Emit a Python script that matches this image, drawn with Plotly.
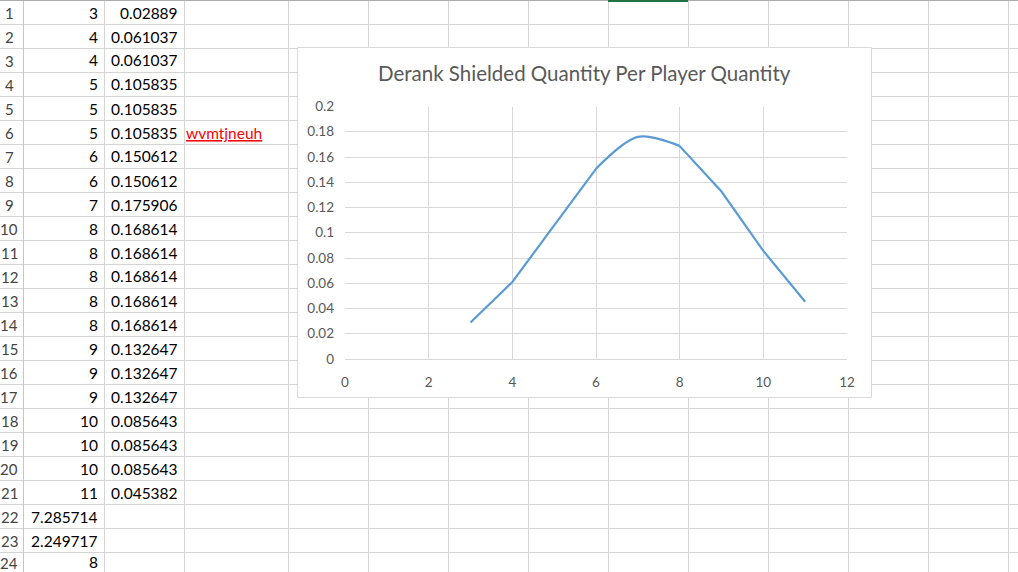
import plotly.graph_objects as go

# ---------------- data ----------------
player_qty = [3, 4, 4, 5, 5, 5, 6, 6, 7, 8, 8, 8, 8, 8, 9, 9, 9, 10, 10, 10, 11]
shielded_qty = [0.02889, 0.061037, 0.061037, 0.105835, 0.105835, 0.105835,
                0.150612, 0.150612, 0.175906, 0.168614, 0.168614, 0.168614,
                0.168614, 0.168614, 0.132647, 0.132647, 0.132647, 0.085643,
                0.085643, 0.085643, 0.045382]
summary_vals = ["7.285714", "2.249717", "8"]
note_text = "wvmtjneuh"
chart_title = "Derank Shielded Quantity Per Player Quantity"
x_ticks = [0, 2, 4, 6, 8, 10, 12]
y_ticks = [0, 0.02, 0.04, 0.06, 0.08, 0.1, 0.12, 0.14, 0.16, 0.18, 0.2]
y_tick_text = ["0", "0.02", "0.04", "0.06", "0.08", "0.1", "0.12", "0.14", "0.16", "0.18", "0.2"]

# ---------------- geometry (pixels) ----------------
W, H = 1018, 572
def px(x):
    return x / W
def py(y):
    return 1 - y / H

ROW_H = 24
col_edges = [23, 104, 184, 288, 368, 448, 528, 608, 688, 768, 848, 928, 1008]
CHART = dict(x0=297, y0=47, x1=871, y1=397)
PLOT = dict(x0=345, x1=847, y0=106.5, y1=359)

FAMILY = "Lato, Calibri, sans-serif"
CELL_FONT = dict(family=FAMILY, size=15.5, color="#000000")
GRID = "#d4d4d4"

def row_center(i):
    # text centre (px) of 0-based spreadsheet row i; the last visible row is
    # partly outside the window, so keep its text just inside the edge
    return min(i * ROW_H + 12.5, H - 10)

shapes = []
annotations = []

# spreadsheet horizontal grid lines
for r in range(1, 25):
    y = r * ROW_H + 0.5
    shapes.append(dict(type="line", xref="paper", yref="paper", layer="below",
                       x0=0, x1=1, y0=py(y), y1=py(y),
                       line=dict(color=GRID, width=1)))
# vertical grid lines
for i, x in enumerate(col_edges):
    shapes.append(dict(type="line", xref="paper", yref="paper", layer="below",
                       x0=px(x + 0.5), x1=px(x + 0.5), y0=0, y1=1,
                       line=dict(color="#c6c6c6" if i == 0 else GRID, width=1)))
# top border + selected column indicator
shapes.append(dict(type="line", xref="paper", yref="paper", layer="below",
                   x0=0, x1=1, y0=py(0.5), y1=py(0.5),
                   line=dict(color="#ababab", width=1)))
shapes.append(dict(type="line", xref="paper", yref="paper", layer="below",
                   x0=px(608), x1=px(688), y0=py(1), y1=py(1),
                   line=dict(color="#217346", width=2)))
# chart area box
shapes.append(dict(type="rect", xref="paper", yref="paper", layer="below",
                   x0=px(CHART["x0"] + 0.5), x1=px(CHART["x1"] + 0.5),
                   y0=py(CHART["y1"] + 0.5), y1=py(CHART["y0"] + 0.5),
                   fillcolor="#ffffff", line=dict(color="#d9d9d9", width=1)))

# row headers
for r in range(1, 25):
    annotations.append(dict(xref="paper", yref="paper", x=px(9), y=py(row_center(r - 1) + 0.5),
                            text=str(r), showarrow=False, xanchor="center", yanchor="middle",
                            font=dict(family=FAMILY, size=15, color="#444444")))

# column A and B values
for i, (a, b) in enumerate(zip(player_qty, shielded_qty)):
    yc = py(row_center(i))
    annotations.append(dict(xref="paper", yref="paper", x=px(100), y=yc, text=str(a),
                            showarrow=False, xanchor="right", yanchor="middle", font=CELL_FONT))
    annotations.append(dict(xref="paper", yref="paper", x=px(180), y=yc, text=f"{b:g}",
                            showarrow=False, xanchor="right", yanchor="middle", font=CELL_FONT))
for j, v in enumerate(summary_vals):
    r = len(player_qty) + j
    annotations.append(dict(xref="paper", yref="paper", x=px(100), y=py(row_center(r)), text=v,
                            showarrow=False, xanchor="right", yanchor="middle", font=CELL_FONT))
# note text (row 6, column C)
annotations.append(dict(xref="paper", yref="paper", x=px(184), y=py(row_center(5)),
                        text=f"<u>{note_text}</u>", showarrow=False, xanchor="left", yanchor="middle",
                        font=dict(family=FAMILY, size=15.5, color="#ff0000")))

# chart title
annotations.append(dict(xref="paper", yref="paper", x=px(584), y=py(73), text=chart_title,
                        showarrow=False, xanchor="center", yanchor="middle",
                        font=dict(family=FAMILY, size=20.5, color="#595959")))

fig = go.Figure()
fig.add_trace(go.Scatter(x=player_qty, y=shielded_qty, mode="lines",
                         line=dict(color="#5b9bd5", width=2.2, shape="spline", smoothing=1),
                         hoverinfo="x+y", showlegend=False))

AX_FONT = dict(family=FAMILY, size=13.5, color="#595959")
fig.update_layout(
    template="none",
    width=W, height=H, autosize=False,
    margin=dict(l=0, r=0, t=0, b=0, pad=0),
    paper_bgcolor="#ffffff", plot_bgcolor="rgba(0,0,0,0)",
    shapes=shapes, annotations=annotations, showlegend=False,
    xaxis=dict(domain=[px(PLOT["x0"]), px(PLOT["x1"])], range=[0, 12], automargin=False,
               tickvals=x_ticks, ticktext=[str(t) for t in x_ticks],
               showgrid=True, gridcolor="#d9d9d9", gridwidth=1,
               zeroline=False, showline=True, linecolor="#d9d9d9", linewidth=1,
               ticks="", tickfont=AX_FONT, ticklabelstandoff=11, fixedrange=True),
    yaxis=dict(domain=[py(PLOT["y1"]), py(PLOT["y0"])], range=[0, 0.2], automargin=False,
               tickvals=y_ticks, ticktext=y_tick_text,
               showgrid=True, gridcolor="#d9d9d9", gridwidth=1,
               zeroline=False, showline=False,
               ticks="", tickfont=AX_FONT, ticklabelstandoff=10, fixedrange=True),
)

fig.write_html("out.html", config={"displayModeBar": False},
               post_script="document.body.style.margin='0';document.body.style.overflow='hidden';")
